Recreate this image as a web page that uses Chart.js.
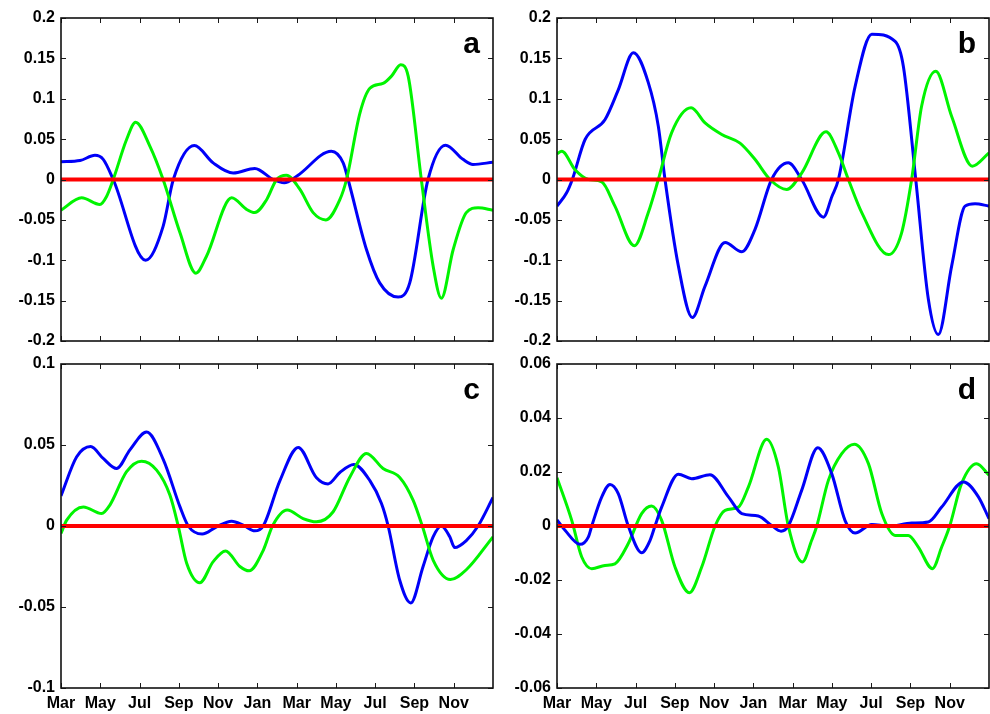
<!DOCTYPE html>
<html>
<head>
<meta charset="utf-8">
<script src="https://cdn.jsdelivr.net/npm/chart.js@4/dist/chart.umd.min.js"></script>
<style>
  html, body { margin: 0; padding: 0; background: #ffffff; }
  #wrap { position: relative; width: 990px; height: 714px; }
  #wrap canvas { position: absolute; left: 0; top: 0; }
</style>
</head>
<body>
<div id="wrap">
  <canvas id="panelA" width="990" height="714"></canvas>
  <canvas id="panelB" width="990" height="714"></canvas>
  <canvas id="panelC" width="990" height="714"></canvas>
  <canvas id="panelD" width="990" height="714"></canvas>
</div>
<script>
// ---- x axis: months counted from March of the first year ----
const monthTicks  = [0, 2, 4, 6, 8, 10, 12, 14, 16, 18, 20];
const monthLabels = ['Mar', 'May', 'Jul', 'Sep', 'Nov', 'Jan', 'Mar', 'May', 'Jul', 'Sep', 'Nov'];

// ---- y axis ticks ----
const yTicksAB  = [-0.2, -0.15, -0.1, -0.05, 0, 0.05, 0.1, 0.15, 0.2];
const yLabelsAB = ['-0.2', '-0.15', '-0.1', '-0.05', '0', '0.05', '0.1', '0.15', '0.2'];
const yTicksC   = [-0.1, -0.05, 0, 0.05, 0.1];
const yLabelsC  = ['-0.1', '-0.05', '0', '0.05', '0.1'];
const yTicksD   = [-0.06, -0.04, -0.02, 0, 0.02, 0.04, 0.06];
const yLabelsD  = ['-0.06', '-0.04', '-0.02', '0', '0.02', '0.04', '0.06'];

// ---- panel a ----
const monthsBlueA = [0, 0.97, 1.73, 2.15, 2.66, 4.31, 5.2, 5.72, 6.79, 7.75, 8.77, 9.87, 10.8, 11.37, 12.0, 13.77, 14.37, 14.62, 15.56, 16.23, 17.17, 17.76, 18.69, 19.58, 20.47, 20.98, 22];
const blueA       = [0.022, 0.0235, 0.030, 0.025, 0, -0.100, -0.058, 0, 0.042, 0.0206, 0.008, 0.0136, 0, -0.004, 0.004, 0.035, 0.0206, 0, -0.087, -0.128, -0.1456, -0.128, 0, 0.0425, 0.025, 0.0186, 0.0214];
const monthsGreenA = [0, 1.05, 1.98, 2.32, 2.66, 3.34, 3.8, 4.53, 5.2, 6.06, 6.87, 7.41, 8.69, 9.45, 9.87, 10.47, 10.98, 11.48, 12.16, 12.84, 13.49, 14.2, 14.54, 15.22, 15.73, 16.4, 16.83, 17.3, 17.68, 18.35, 18.95, 19.37, 19.97, 20.64, 21.24, 22];
const greenA       = [-0.038, -0.0227, -0.031, -0.021, 0, 0.0495, 0.071, 0.041, 0, -0.066, -0.116, -0.095, -0.0227, -0.037, -0.041, -0.025, 0, 0.0054, -0.012, -0.041, -0.050, -0.025, 0, 0.082, 0.113, 0.119, 0.128, 0.142, 0.128, 0, -0.107, -0.147, -0.087, -0.041, -0.035, -0.038];

// ---- panel b ----
const monthsBlueB = [0, 0.49, 0.78, 1.43, 2.44, 3.12, 3.89, 4.65, 5.16, 5.5, 6.18, 6.89, 7.54, 8.56, 9.41, 10.08, 10.93, 11.78, 12.46, 13.57, 14.0, 14.33, 15.18, 16.03, 17.22, 17.64, 18.27, 18.91, 19.42, 20.1, 20.78, 21.29, 22];
const blueB       = [-0.033, -0.0165, 0, 0.0495, 0.074, 0.111, 0.157, 0.120, 0.066, 0, -0.107, -0.171, -0.132, -0.078, -0.0895, -0.062, 0, 0.0206, 0, -0.0466, -0.021, 0, 0.115, 0.180, 0.171, 0.140, 0, -0.148, -0.192, -0.107, -0.033, -0.030, -0.033];
const monthsGreenB = [0, 0.24, 0.92, 1.6, 2.28, 2.95, 3.94, 4.65, 5.16, 5.84, 6.83, 7.54, 8.39, 9.32, 10.08, 10.85, 11.7, 12.46, 13.7, 14.33, 14.84, 15.52, 16.88, 17.55, 18.06, 18.57, 19.29, 20.1, 21.15, 22];
const greenB       = [0.032, 0.035, 0.012, 0, -0.003, -0.033, -0.082, -0.041, 0, 0.058, 0.0887, 0.070, 0.0557, 0.045, 0.025, 0, -0.0124, 0.008, 0.059, 0.033, 0, -0.041, -0.093, -0.066, 0, 0.091, 0.134, 0.078, 0.0165, 0.033];

// ---- panel c ----
const monthsBlueC = [0, 0.8, 1.51, 2.15, 2.83, 3.51, 4.36, 5.21, 6.06, 6.48, 7.19, 7.92, 8.69, 9.28, 9.87, 10.3, 11.15, 12.08, 13.0, 13.6, 14.2, 14.91, 15.73, 16.32, 16.66, 17.25, 17.81, 18.44, 18.95, 19.37, 19.8, 20.05, 20.64, 21.24, 22];
const blueC       = [0.0186, 0.0427, 0.049, 0.0417, 0.0355, 0.047, 0.058, 0.041, 0.0118, 0, -0.005, -0.0005, 0.003, 0.0005, -0.003, 0, 0.028, 0.0485, 0.030, 0.026, 0.033, 0.038, 0.028, 0.0139, 0, -0.0335, -0.0475, -0.025, -0.0067, 0, -0.0067, -0.0133, -0.009, 0, 0.0176];
const monthsGreenC = [0, 0.29, 1.14, 2.07, 2.49, 3.34, 4.1, 4.87, 5.55, 5.97, 6.4, 7.07, 7.75, 8.38, 9.11, 9.58, 10.3, 10.77, 11.52, 12.33, 13.01, 13.86, 14.7, 15.56, 16.4, 17.25, 17.93, 18.4, 18.95, 19.83, 20.64, 22];
const greenC       = [-0.0046, 0.0036, 0.0118, 0.0077, 0.0129, 0.0335, 0.040, 0.0345, 0.019, 0, -0.023, -0.035, -0.022, -0.0154, -0.025, -0.0277, -0.015, 0, 0.0098, 0.0046, 0.0026, 0.0088, 0.030, 0.0448, 0.0355, 0.030, 0.016, 0, -0.021, -0.033, -0.027, -0.0067];

// ---- panel d ----
const monthsBlueD = [0, 0.41, 1.17, 1.6, 1.77, 2.28, 2.7, 3.12, 3.63, 4.31, 4.74, 4.99, 5.33, 6.18, 6.86, 7.79, 8.73, 9.41, 10.25, 10.93, 11.41, 11.78, 12.46, 13.28, 13.99, 14.67, 15.18, 16.03, 16.88, 18.06, 18.91, 19.59, 20.7, 21.46, 22];
const blueD       = [0.0023, -0.0016, -0.0068, -0.004, 0, 0.0108, 0.0154, 0.012, 0, -0.0099, -0.0053, 0, 0.007, 0.0192, 0.0175, 0.019, 0.0108, 0.0046, 0.0037, 0.0002, -0.0019, 0, 0.0132, 0.029, 0.0194, 0.002, -0.0026, 0.0006, -0.0001, 0.0011, 0.0015, 0.007, 0.0163, 0.0108, 0.0027];
const monthsGreenD = [0, 0.75, 1.26, 1.77, 2.44, 2.95, 3.63, 4.31, 4.82, 5.33, 6.01, 6.74, 7.37, 8.05, 8.56, 9.24, 9.75, 10.68, 11.27, 11.78, 12.5, 12.97, 13.23, 13.82, 14.5, 15.14, 15.86, 16.54, 17.22, 17.89, 18.4, 19.12, 19.59, 20.0, 20.6, 21.37, 22];
const greenD       = [0.0179, 0.0021, -0.0115, -0.0158, -0.0146, -0.014, -0.0065, 0.0046, 0.0074, 0.0021, -0.0152, -0.0247, -0.0152, 0, 0.0058, 0.007, 0.0145, 0.0321, 0.0219, 0, -0.0133, -0.0053, 0, 0.0169, 0.0268, 0.0303, 0.0231, 0.0046, -0.0035, -0.0035, -0.0078, -0.0158, -0.0078, 0, 0.0157, 0.0231, 0.0188];

// ---- drawing ----
const FONT_FAMILY = '"Liberation Sans", Arial, Helvetica, sans-serif';
const tickFont = { family: FONT_FAMILY, size: 16, weight: 'bold' };
const X_MAX = 22;

function toPoints(xs, ys) {
  return xs.map((x, i) => ({ x: x, y: ys[i] }));
}

// Axes box, inward tick marks on all four sides, and the panel letter.
const framePlugin = {
  id: 'frame',
  afterDraw(chart, args, opts) {
    const { ctx, chartArea: a, scales } = chart;
    ctx.save();
    ctx.strokeStyle = '#1a1a1a';
    ctx.lineWidth = 1;
    const tl = 5;
    ctx.beginPath();
    scales.y.ticks.forEach(t => {
      const py = Math.round(scales.y.getPixelForValue(t.value)) + 0.5;
      ctx.moveTo(a.left, py); ctx.lineTo(a.left + tl, py);
      ctx.moveTo(a.right, py); ctx.lineTo(a.right - tl, py);
    });
    scales.x.ticks.forEach(t => {
      const px = Math.round(scales.x.getPixelForValue(t.value)) + 0.5;
      ctx.moveTo(px, a.bottom); ctx.lineTo(px, a.bottom - tl);
      ctx.moveTo(px, a.top); ctx.lineTo(px, a.top + tl);
    });
    ctx.stroke();
    ctx.lineWidth = 1.6;
    ctx.strokeStyle = '#111111';
    ctx.strokeRect(a.left, a.top, a.right - a.left, a.bottom - a.top);
    ctx.fillStyle = '#000000';
    ctx.font = 'bold 30px ' + FONT_FAMILY;
    ctx.textAlign = 'right';
    ctx.textBaseline = 'alphabetic';
    ctx.fillText(opts.letter, a.right - 13, a.top + 35);
    ctx.restore();
  }
};

function makePanel(p) {
  const canvas = document.getElementById(p.id);
  return new Chart(canvas, {
    type: 'line',
    data: {
      datasets: [
        { label: 'zero', data: [{ x: 0, y: 0 }, { x: X_MAX, y: 0 }], borderColor: '#ff0000', borderWidth: 4, pointRadius: 0, order: 0 },
        { label: 'blue', data: toPoints(p.bx, p.by), borderColor: '#0000f8', borderWidth: 3, pointRadius: 0, cubicInterpolationMode: 'monotone', order: p.blueOrder },
        { label: 'green', data: toPoints(p.gx, p.gy), borderColor: '#00f400', borderWidth: 3, pointRadius: 0, cubicInterpolationMode: 'monotone', order: p.greenOrder }
      ]
    },
    options: {
      responsive: false,
      animation: false,
      devicePixelRatio: 1,
      events: [],
      layout: { padding: { left: 0, top: p.top, right: 990 - p.right, bottom: p.showX ? 0 : 714 - p.bottom } },
      plugins: { legend: { display: false }, tooltip: { enabled: false }, frame: { letter: p.letter } },
      scales: {
        x: {
          type: 'linear', min: 0, max: X_MAX,
          grid: { display: false, drawTicks: false }, border: { display: false },
          afterBuildTicks: s => { s.ticks = monthTicks.map(v => ({ value: v })); },
          afterFit: s => { s.height = p.showX ? 714 - p.bottom : 0; },
          ticks: { display: p.showX, autoSkip: false, maxRotation: 0, padding: 6, font: tickFont, color: '#000000',
                   callback: (v, i) => monthLabels[i] }
        },
        y: {
          min: p.ymin, max: p.ymax,
          grid: { display: false, drawTicks: false }, border: { display: false },
          afterBuildTicks: s => { s.ticks = p.yTicks.map(v => ({ value: v })); },
          afterFit: s => { s.width = p.left; },
          ticks: { autoSkip: false, padding: 6, font: tickFont, color: '#000000',
                   callback: (v, i) => p.yLabels[i] }
        }
      }
    },
    plugins: [framePlugin]
  });
}

makePanel({ id: 'panelA', letter: 'a', left: 61, right: 493, top: 18, bottom: 341, showX: false,
  ymin: -0.2, ymax: 0.2, yTicks: yTicksAB, yLabels: yLabelsAB,
  bx: monthsBlueA, by: blueA, gx: monthsGreenA, gy: greenA, blueOrder: 2, greenOrder: 1 });
makePanel({ id: 'panelB', letter: 'b', left: 557, right: 989, top: 18, bottom: 341, showX: false,
  ymin: -0.2, ymax: 0.2, yTicks: yTicksAB, yLabels: yLabelsAB,
  bx: monthsBlueB, by: blueB, gx: monthsGreenB, gy: greenB, blueOrder: 2, greenOrder: 1 });
makePanel({ id: 'panelC', letter: 'c', left: 61, right: 493, top: 364, bottom: 688, showX: true,
  ymin: -0.1, ymax: 0.1, yTicks: yTicksC, yLabels: yLabelsC,
  bx: monthsBlueC, by: blueC, gx: monthsGreenC, gy: greenC, blueOrder: 2, greenOrder: 1 });
makePanel({ id: 'panelD', letter: 'd', left: 557, right: 989, top: 364, bottom: 688, showX: true,
  ymin: -0.06, ymax: 0.06, yTicks: yTicksD, yLabels: yLabelsD,
  bx: monthsBlueD, by: blueD, gx: monthsGreenD, gy: greenD, blueOrder: 1, greenOrder: 2 });
</script>
</body>
</html>
